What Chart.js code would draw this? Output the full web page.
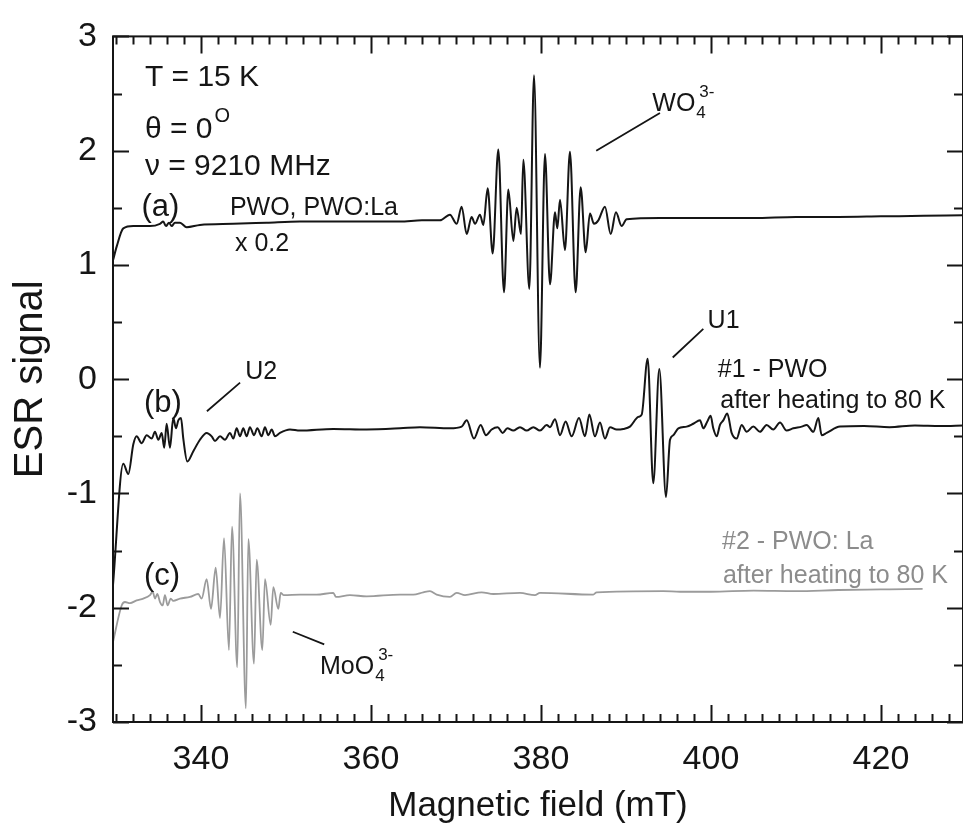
<!DOCTYPE html>
<html>
<head>
<meta charset="utf-8">
<script src="https://cdn.jsdelivr.net/npm/chart.js@4.4.1/dist/chart.umd.min.js"></script>
<style>
  html, body { margin: 0; padding: 0; background: #fff; }
</style>
</head>
<body>
<canvas id="esr" width="963" height="832"></canvas>
<script>
// (a) PWO, PWO:La  x 0.2  — WO4(3-) hyperfine pattern
const fieldA = [329.65, 330.08, 330.86, 332.04, 334.0, 335.18, 335.56, 335.88, 336.24, 336.55,
  336.94, 337.53, 338.32, 339.88, 343.8, 347.73, 351.65, 355.56, 359.49, 363.41,
  366.0, 368.12, 369.29, 370.08, 370.67, 371.26, 371.84, 372.24, 372.82, 373.22,
  373.73, 374.32, 374.98, 375.65, 376.16, 376.75, 377.14, 377.65, 377.92, 378.63,
  379.18, 379.88, 380.47, 381.06, 381.65, 381.92, 382.24, 382.82, 383.41, 384.08,
  384.67, 385.26, 385.76, 386.24, 386.75, 387.53, 388.2, 388.82, 389.49, 390.08,
  394.0, 400, 405, 410, 415, 420, 425, 429.65];
const signalA = [1.04, 1.16, 1.32, 1.34, 1.34, 1.36, 1.38, 1.34, 1.37, 1.34,
  1.37, 1.37, 1.33, 1.35, 1.36, 1.37, 1.38, 1.38, 1.38, 1.38,
  1.39, 1.39, 1.44, 1.36, 1.51, 1.27, 1.42, 1.36, 1.44, 1.35,
  1.67, 1.10, 2.01, 0.76, 1.66, 1.21, 1.50, 1.27, 1.92, 0.79,
  2.66, 0.10, 1.97, 0.83, 1.46, 1.32, 1.57, 1.13, 1.99, 0.76,
  1.68, 1.11, 1.45, 1.36, 1.39, 1.51, 1.27, 1.46, 1.34, 1.40,
  1.41, 1.41, 1.41, 1.42, 1.42, 1.425, 1.43, 1.435];

// (b) #1 - PWO after heating to 80 K — U2 and U1 centres
const fieldB = [329.65, 330.86, 331.45, 332.04, 332.43, 333.02, 333.61, 334.2, 334.59, 334.98,
  335.38, 335.68, 335.96, 336.35, 336.74, 337.06, 337.33, 337.65, 337.92, 338.39,
  339.1, 339.88, 340.67, 341.26, 341.65, 342.24, 342.82, 343.41, 343.8, 344.2,
  344.59, 344.98, 345.37, 345.76, 346.24, 346.63, 347.14, 347.53, 347.92, 348.32,
  348.71, 349.29, 350.47, 351.65, 355.57, 359.49, 363.41, 365.76, 369.29, 370.67,
  371.26, 372.12, 372.9, 373.53, 374.2, 374.9, 375.49, 376.04, 376.74, 377.53,
  378.32, 379.1, 379.88, 380.67, 381.06, 381.65, 382.24, 382.9, 383.61, 384.47,
  385.18, 385.69, 386.35, 386.94, 387.53, 388.12, 388.9, 389.69, 390.47, 391.45,
  391.85, 392.55, 393.21, 393.92, 394.71, 395.18, 395.57, 396.16, 397.14, 397.92,
  398.71, 399.1, 399.57, 399.96, 400.27, 400.67, 401.06, 401.45, 401.92, 402.43,
  403.02, 403.61, 404.2, 404.98, 405.76, 406.55, 407.33, 408.12, 408.9, 409.68,
  410.67, 411.26, 412.04, 412.63, 413.02, 413.61, 415.18, 418, 421, 424,
  427, 429.65];
const signalB = [-1.80, -0.74, -0.83, -0.57, -0.50, -0.56, -0.49, -0.52, -0.46, -0.53,
  -0.47, -0.60, -0.39, -0.60, -0.34, -0.43, -0.36, -0.34, -0.52, -0.72,
  -0.63, -0.53, -0.47, -0.50, -0.54, -0.50, -0.53, -0.47, -0.52, -0.43,
  -0.50, -0.43, -0.50, -0.42, -0.49, -0.43, -0.50, -0.42, -0.49, -0.44,
  -0.50, -0.47, -0.44, -0.45, -0.435, -0.44, -0.43, -0.42, -0.43, -0.415,
  -0.36, -0.52, -0.40, -0.49, -0.44, -0.42, -0.47, -0.43, -0.45, -0.42,
  -0.45, -0.42, -0.45, -0.40, -0.42, -0.35, -0.49, -0.37, -0.50, -0.34,
  -0.50, -0.31, -0.50, -0.38, -0.52, -0.42, -0.44, -0.435, -0.415, -0.33,
  -0.31, 0.18, -0.91, 0.09, -1.03, -0.53, -0.49, -0.43, -0.415, -0.39,
  -0.36, -0.43, -0.37, -0.32, -0.43, -0.50, -0.40, -0.36, -0.30, -0.47,
  -0.52, -0.40, -0.46, -0.415, -0.46, -0.40, -0.44, -0.38, -0.45, -0.43,
  -0.415, -0.40, -0.46, -0.34, -0.49, -0.47, -0.415, -0.41, -0.42, -0.405,
  -0.41, -0.405];

// (c) #2 - PWO: La after heating to 80 K — MoO4(3-) pattern
const fieldC = [329.65, 330.67, 331.06, 331.65, 332.43, 333.21, 334.0, 334.32, 334.59, 334.86,
  335.18, 335.49, 335.76, 336.08, 336.44, 336.74, 337.53, 338.71, 339.68, 340.08,
  340.67, 341.18, 341.73, 342.24, 342.71, 343.29, 343.65, 344.27, 344.59, 345.29,
  345.57, 346.24, 346.55, 347.22, 347.53, 348.2, 348.51, 349.1, 349.38, 349.76,
  351.65, 353.61, 355.57, 355.88, 357.53, 359.49, 363.41, 364.98, 366.15, 366.94,
  367.73, 369.29, 370.08, 371.06, 373.02, 374.39, 377.53, 379.29, 379.88, 386.15,
  386.55, 394.39, 396.35, 400, 405, 410, 415, 420, 424.9];
const signalC = [-2.30, -1.98, -1.95, -1.96, -1.935, -1.92, -1.89, -1.86, -1.92, -1.88,
  -1.95, -1.98, -1.89, -1.98, -1.92, -1.94, -1.92, -1.905, -1.88, -1.92,
  -1.75, -2.01, -1.65, -2.09, -1.39, -2.37, -1.29, -2.52, -1.00, -2.88,
  -1.40, -2.49, -1.58, -2.37, -1.75, -2.15, -1.82, -2.01, -1.87, -1.89,
  -1.885, -1.885, -1.87, -1.905, -1.89, -1.90, -1.885, -1.885, -1.865, -1.855,
  -1.885, -1.905, -1.87, -1.89, -1.865, -1.88, -1.87, -1.89, -1.87, -1.885,
  -1.865, -1.855, -1.86, -1.86, -1.85, -1.855, -1.845, -1.84, -1.835];

const fieldTicks = [340, 360, 380, 400, 420];
const signalTicks = [-3, -2, -1, 0, 1, 2, 3];

const FONT = '"Liberation Sans", Arial, Helvetica, sans-serif';
const INK = '#151515';
const GREY = '#8c8c8c';

// text labels placed in data units (field, signal)
const notes = [
  { text: 'T = 15 K', x: 333.4, y: 2.64, size: 30 },
  { text: '\u03b8 = 0', x: 333.4, y: 2.18, size: 30, sup: 'O' },
  { text: '\u03bd = 9210 MHz', x: 333.4, y: 1.86, size: 30 },
  { text: '(a)', x: 333.0, y: 1.50, size: 31 },
  { text: 'PWO, PWO:La', x: 343.4, y: 1.50, size: 25 },
  { text: 'x 0.2', x: 344.0, y: 1.18, size: 25 },
  { text: 'WO', x: 393.1, y: 2.41, size: 25, sub: '4', sup: '3-' },
  { text: '(b)', x: 333.3, y: -0.21, size: 31 },
  { text: 'U2', x: 345.2, y: 0.06, size: 25 },
  { text: 'U1', x: 399.6, y: 0.51, size: 25 },
  { text: '#1 - PWO', x: 400.8, y: 0.08, size: 25 },
  { text: 'after heating to 80 K', x: 401.1, y: -0.19, size: 25 },
  { text: '#2 - PWO: La', x: 401.3, y: -1.43, size: 25, color: GREY },
  { text: 'after heating to 80 K', x: 401.4, y: -1.72, size: 25, color: GREY },
  { text: '(c)', x: 333.3, y: -1.73, size: 31 },
  { text: 'MoO', x: 354.0, y: -2.52, size: 25, sub: '4', sup: '3-' }
];

// leader lines from labels to spectral features
const leaders = [
  [394.0, 2.33, 386.5, 2.00],
  [344.6, -0.03, 340.7, -0.28],
  [399.1, 0.44, 395.5, 0.19],
  [350.8, -2.21, 354.5, -2.32]
];

const toPoints = (xs, ys) => xs.map((v, i) => ({ x: v, y: ys[i] }));

const frameAndNotes = {
  id: 'frameAndNotes',
  afterDatasetsDraw(chart) {
    const { ctx, chartArea: a, scales: { x, y } } = chart;
    ctx.save();
    ctx.strokeStyle = INK;
    ctx.lineWidth = 2;
    ctx.strokeRect(a.left, a.top, a.right - a.left, a.bottom - a.top);

    // inward ticks on all four sides
    ctx.beginPath();
    for (let v = 330; v <= 430; v += 2) {
      if (v < x.min || v > x.max) continue;
      const px = Math.round(x.getPixelForValue(v)) + 0.5;
      const len = v % 20 === 0 ? 17 : 8;
      ctx.moveTo(px, a.bottom); ctx.lineTo(px, a.bottom - len);
      ctx.moveTo(px, a.top); ctx.lineTo(px, a.top + len);
    }
    for (let v = -3; v <= 3; v += 0.5) {
      const py = Math.round(y.getPixelForValue(v)) + 0.5;
      const len = Number.isInteger(v) ? 16 : 9;
      ctx.moveTo(a.left, py); ctx.lineTo(a.left + len, py);
      ctx.moveTo(a.right, py); ctx.lineTo(a.right - len, py);
    }
    ctx.stroke();

    ctx.lineWidth = 1.8;
    ctx.beginPath();
    leaders.forEach(([x1, y1, x2, y2]) => {
      ctx.moveTo(x.getPixelForValue(x1), y.getPixelForValue(y1));
      ctx.lineTo(x.getPixelForValue(x2), y.getPixelForValue(y2));
    });
    ctx.stroke();

    ctx.textBaseline = 'middle';
    ctx.textAlign = 'left';
    notes.forEach(n => {
      const px = x.getPixelForValue(n.x);
      const py = y.getPixelForValue(n.y);
      ctx.fillStyle = n.color || INK;
      ctx.font = `${n.size}px ${FONT}`;
      ctx.fillText(n.text, px, py);
      const w = ctx.measureText(n.text).width;
      ctx.font = `${Math.round(n.size * 0.66)}px ${FONT}`;
      if (n.sub) ctx.fillText(n.sub, px + w + 1, py + n.size * 0.38);
      if (n.sup) ctx.fillText(n.sup, px + w + (n.sub ? 4 : 2), py - n.size * 0.47);
    });
    ctx.restore();
  }
};

const lineStyle = {
  pointRadius: 0,
  borderWidth: 2,
  fill: false,
  cubicInterpolationMode: 'monotone'
};

new Chart(document.getElementById('esr'), {
  type: 'line',
  data: {
    datasets: [
      { ...lineStyle, label: '(a)', data: toPoints(fieldA, signalA), borderColor: INK },
      { ...lineStyle, label: '(b)', data: toPoints(fieldB, signalB), borderColor: INK },
      { ...lineStyle, label: '(c)', data: toPoints(fieldC, signalC), borderColor: '#9b9b9b', borderWidth: 1.8 }
    ]
  },
  options: {
    responsive: false,
    animation: false,
    devicePixelRatio: 1,
    layout: { padding: { top: 24, right: 0, bottom: 0, left: 0 } },
    plugins: {
      legend: { display: false },
      tooltip: { enabled: false }
    },
    scales: {
      x: {
        type: 'linear',
        min: 329.65,
        max: 429.65,
        afterBuildTicks: s => { s.ticks = fieldTicks.map(v => ({ value: v })); },
        afterFit: s => { s.height = 110; },
        grid: { display: false, drawTicks: false },
        border: { display: false },
        ticks: {
          color: INK,
          padding: 17,
          maxRotation: 0,
          autoSkip: false,
          font: { family: FONT, size: 34 }
        },
        title: {
          display: true,
          text: 'Magnetic field (mT)',
          color: INK,
          font: { family: FONT, size: 35 },
          padding: { top: 0, bottom: 5 }
        }
      },
      y: {
        min: -3,
        max: 3,
        afterBuildTicks: s => { s.ticks = signalTicks.map(v => ({ value: v })); },
        afterFit: s => { s.width = 113; },
        grid: { display: false, drawTicks: false },
        border: { display: false },
        ticks: {
          color: INK,
          padding: 16,
          font: { family: FONT, size: 34 }
        },
        title: {
          display: true,
          text: 'ESR signal',
          color: INK,
          font: { family: FONT, size: 40 },
          padding: { top: 7, bottom: 0 }
        }
      }
    }
  },
  plugins: [frameAndNotes]
});
</script>
</body>
</html>
